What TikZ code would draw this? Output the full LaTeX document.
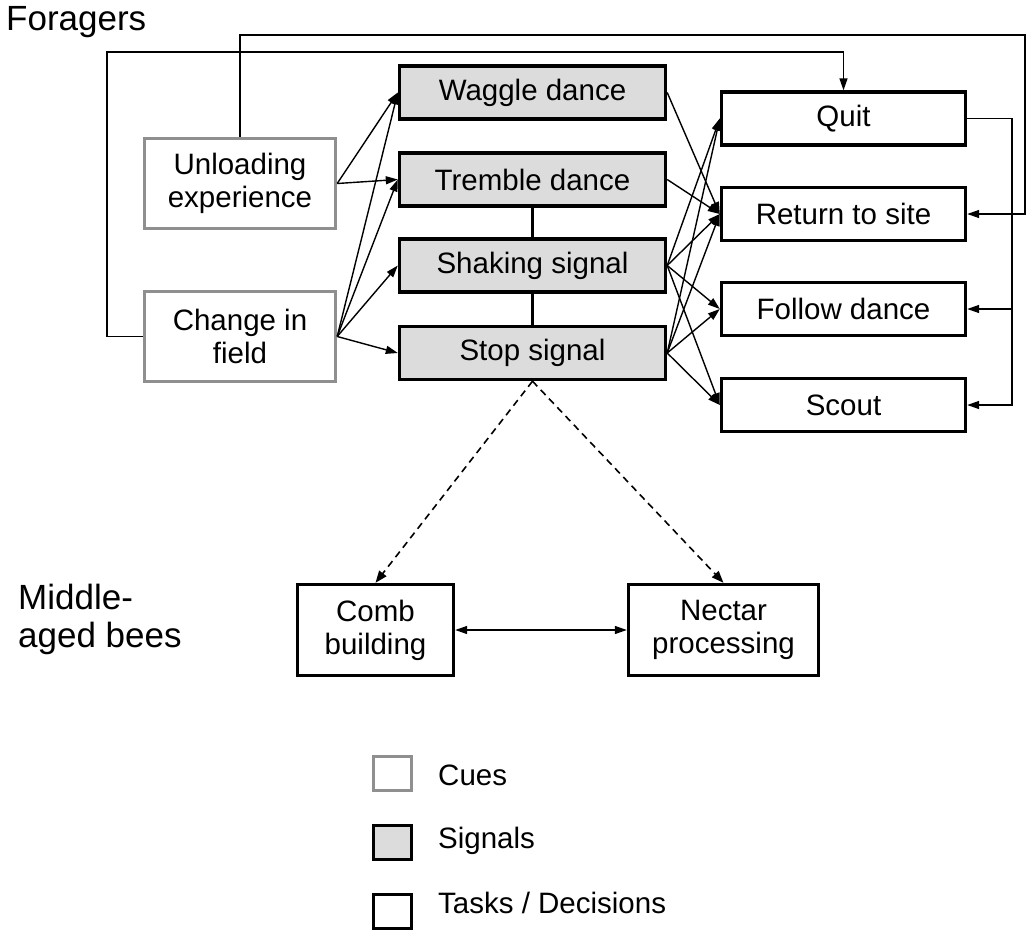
\documentclass[tikz,border=0pt]{standalone}
\usepackage{fontspec}
\setmainfont{Liberation Sans}
\usetikzlibrary{arrows.meta}
\definecolor{cuegray}{HTML}{8F8F8F}
\definecolor{sigfill}{HTML}{DCDCDC}
\begin{document}
\begin{tikzpicture}[x=1pt,y=-1pt,
  boxtxt/.style={font=\fontsize{29.5}{33}\selectfont},
  basebox/.style={boxtxt, draw, line width=3.4pt, inner sep=0pt, align=center, anchor=center},
  cue/.style={basebox, draw=cuegray, fill=white},
  sig/.style={basebox, fill=sigfill, minimum width=266pt, minimum height=53pt},
  task/.style={basebox, fill=white},
  lbl/.style={font=\fontsize{35}{38}\selectfont, inner sep=0pt},
  conn/.style={line width=1.4pt, -{Triangle[length=12pt,width=8pt]}},
  dconn/.style={line width=1.6pt, dashed, dash pattern=on 7pt off 5pt, -{Triangle[length=12pt,width=9pt]}}
]
\useasboundingbox (0,0) rectangle (1028,932);

% labels
\node[lbl, anchor=base west] (lfor) at (6,30) {Foragers};
\node[lbl, anchor=west, align=left] (lmid) at (18,619) {Middle-\\aged bees};

% cues
\node[cue, minimum width=191pt, minimum height=90pt] (unl) at (240,183.5) {Unloading\\experience};
\node[cue, minimum width=191pt, minimum height=90pt] (chg) at (240,336.5) {Change in\\field};

% signals
\node[sig] (wag) at (532.5,92.5) {Waggle dance};
\node[sig] (tre) at (532.5,179.5) {Tremble dance};
\node[sig] (sha) at (532.5,265.5) {Shaking signal};
\node[sig] (sto) at (532.5,353) {Stop signal};

% tasks
\node[task, minimum width=244pt, minimum height=53pt] (quit) at (843.5,118.5) {Quit};
\node[task, minimum width=244pt, minimum height=53pt] (ret) at (843.5,214) {Return to site};
\node[task, minimum width=244pt, minimum height=53pt] (fol) at (843.5,309) {Follow dance};
\node[task, minimum width=244pt, minimum height=53pt] (sco) at (843.5,405) {Scout};

\node[task, minimum width=156pt, minimum height=91pt] (comb) at (375.5,630) {Comb\\building};
\node[task, minimum width=190pt, minimum height=91pt] (nec) at (723.5,630) {Nectar\\processing};

% legend
\node[cue, minimum width=38pt, minimum height=34pt] (lg1) at (392.5,773.5) {};
\node[basebox, fill=sigfill, minimum width=38pt, minimum height=34pt] (lg2) at (392.5,842.5) {};
\node[task, minimum width=38pt, minimum height=34pt] (lg3) at (392.5,911.5) {};
\node[boxtxt, anchor=base west, inner sep=0pt] (lt1) at (438,785) {Cues};
\node[boxtxt, anchor=base west, inner sep=0pt] (lt2) at (438,848) {Signals};
\node[boxtxt, anchor=base west, inner sep=0pt] (lt3) at (438,913) {Tasks / Decisions};

% cues -> signals
\draw[conn] (unl.east) -- (wag.west);
\draw[conn] (unl.east) -- (tre.west);
\draw[conn] (chg.east) -- (wag.west);
\draw[conn] (chg.east) -- (tre.west);
\draw[conn] (chg.east) -- (sha.west);
\draw[conn] (chg.east) -- (sto.west);

% signal links
\draw[line width=2.2pt] (tre.south) -- (sha.north);
\draw[line width=2.2pt] (sha.south) -- (sto.north);

% signals -> tasks
\draw[conn] (wag.east) -- (ret.west);
\draw[conn] (tre.east) -- (ret.west);
\foreach \s in {sha,sto}{
  \foreach \t in {quit,ret,fol,sco}{
    \draw[conn] (\s.east) -- (\t.west);
  }
}

% feedback loops
\coordinate (o1) at (1025,35);
\draw[conn] (unl.north) |- (o1) |- (ret.east);
\coordinate (o2) at (107,52);
\draw[conn] (chg.west) -| (o2) -| (quit.north);
\coordinate (o3) at (1012,405);
\draw[conn] (quit.east) -| (o3) -- (sco.east);
\draw[conn] (o3 |- fol.east) -- (fol.east);

% middle-aged bees
\draw[dconn] (sto.south) -- (comb.north);
\draw[dconn] (sto.south) -- (nec.north);
\draw[line width=1.4pt, {Triangle[length=12pt,width=8pt]}-{Triangle[length=12pt,width=8pt]}] (comb.east) -- (nec.west);
\end{tikzpicture}
\end{document}
